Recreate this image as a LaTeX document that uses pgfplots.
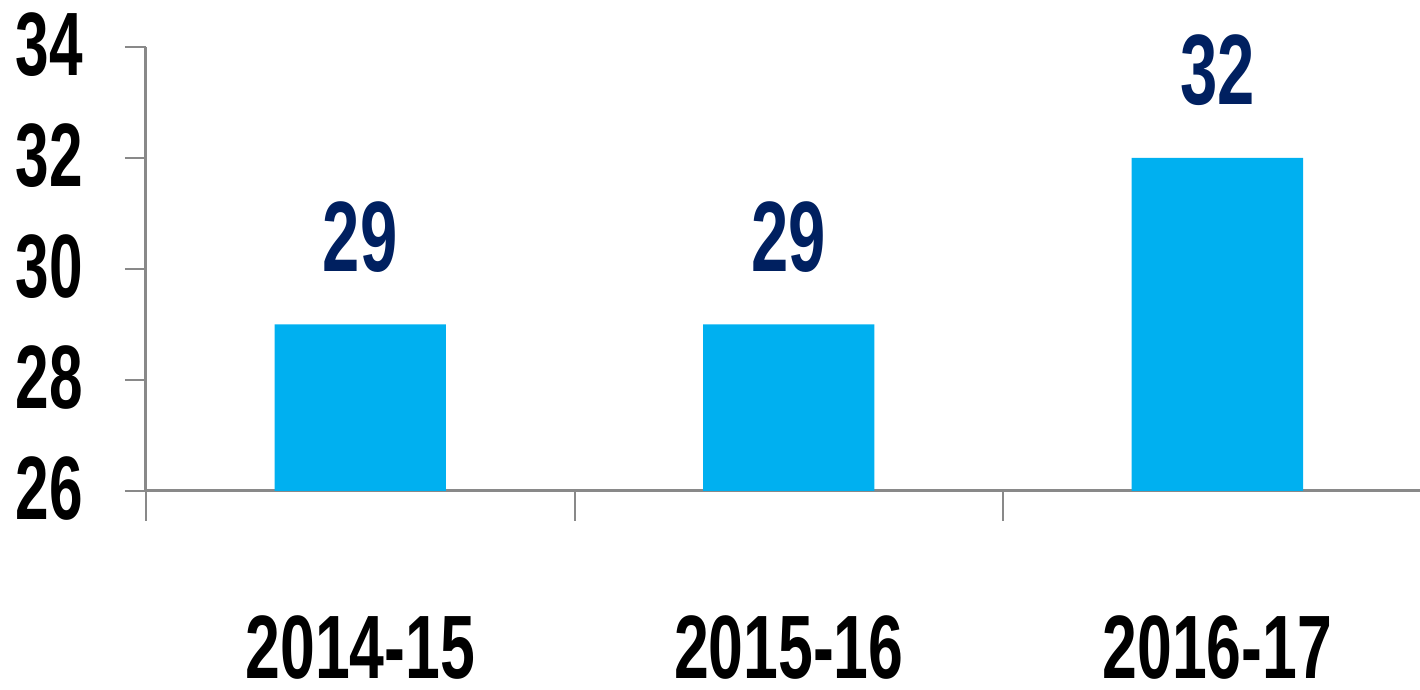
\documentclass[border=0pt]{standalone}
\usepackage{fontspec}
\setmainfont{Liberation Sans}[FakeStretch=0.67]
\newfontfamily\xfont{Liberation Sans}[FakeStretch=0.695]
\usepackage{pgfplots}
\pgfplotsset{compat=1.18}
\definecolor{barblue}{HTML}{00B0F0}
\definecolor{navy}{HTML}{002060}
\definecolor{axgray}{HTML}{898989}
\begin{document}
\begin{tikzpicture}
\path[use as bounding box] (-73pt,-99.5pt) rectangle (637pt,245.5pt);
\begin{axis}[
  at={(0,0)}, anchor=south west,
  scale only axis,
  width=637pt, height=222pt,
  xmin=-0.5, xmax=2.473,
  ymin=26, ymax=34,
  ytick={26,28,30,32,34},
  axis lines=left,
  axis line style={draw=axgray, line width=1.5pt, -},
  tick align=outside,
  major tick length=10.5pt,
  y tick style={draw=axgray, line width=1.2pt},
  x tick style={draw=none},
  xtick={0,1,2},
  xticklabels={2014-15,2015-16,2016-17},
  extra x ticks={-0.5,0.5,1.5},
  extra x tick labels={},
  extra x tick style={major tick length=15pt, x tick style={draw=axgray, line width=1pt}},
  /pgf/number format/assume math mode=true,
  tick label style={font=\fontsize{45}{54}\selectfont\bfseries, inner sep=0pt, text=black},
  yticklabel style={xshift=-21pt, yshift=1pt},
  xticklabel style={yshift=-51.5pt, font=\fontsize{45}{54}\selectfont\xfont\bfseries},
  ybar,
  bar width=0.4,
  nodes near coords,
  every node near coord/.append style={font=\fontsize{50}{60}\selectfont\bfseries, text=navy, anchor=south, inner sep=0pt, yshift=26pt},
  clip=false,
]
\addplot[fill=barblue, draw=none] coordinates {(0,29) (1,29) (2,32)};
\end{axis}
\end{tikzpicture}
\end{document}
